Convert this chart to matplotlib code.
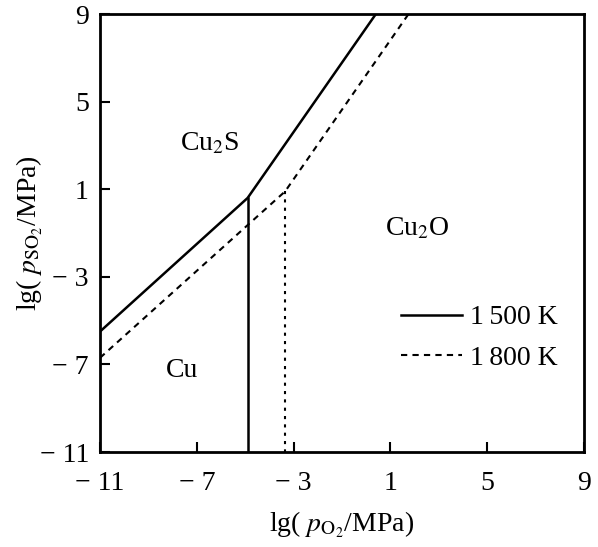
import matplotlib

matplotlib.use("agg")
import matplotlib.pyplot as plt

# phase boundaries (lg pO2, lg pSO2)
x_1500 = [-11, -4.9, 0.4]
y_1500 = [-5.5, 0.6, 9]
x_1500_v = [-4.9, -4.9]
y_1500_v = [0.6, -11]

x_1800 = [-11, -3.35, 1.75]
y_1800 = [-6.7, 0.9, 9]
x_1800_v = [-3.35, -3.35]
y_1800_v = [0.9, -11]

ticks = [-11, -7, -3, 1, 5, 9]
tick_labels = ["\u2212 11", "\u2212 7", "\u2212 3", "1", "5", "9"]

plt.rcParams["font.family"] = ["Liberation Serif", "DejaVu Serif"]
plt.rcParams["mathtext.fontset"] = "stix"

fig = plt.figure(figsize=(5.98, 5.47), dpi=100)
ax = fig.add_axes([100 / 598, 1 - 452 / 547, 484 / 598, 438 / 547])

ax.plot(x_1500, y_1500, color="black", lw=1.8, label="1\u2009500 K")
ax.plot(x_1500_v, y_1500_v, color="black", lw=1.8)
ax.plot(x_1800, y_1800, color="black", lw=1.5, ls=(0, (3, 2.5)), label="1\u2009800 K")
ax.plot(x_1800_v, y_1800_v, color="black", lw=1.5, ls=(0, (1.5, 2.5)))

ax.set_xlim(-11, 9)
ax.set_ylim(-11, 9)
ax.set_xticks(ticks)
ax.set_xticklabels(tick_labels)
ax.set_yticks(ticks)
ax.set_yticklabels(tick_labels)
ax.tick_params(direction="in", length=7, width=1.5, labelsize=20, top=False, right=False)
ax.tick_params(axis="x", pad=14)
ax.tick_params(axis="y", pad=8)
for s in ax.spines.values():
    s.set_linewidth(2)

ax.set_xlabel(r"lg( $p_{\mathrm{O}_2}$/MPa)", fontsize=20, labelpad=10)
ax.set_ylabel(r"lg( $p_{\mathrm{SO}_2}$/MPa)", fontsize=20, labelpad=-4)

ax.text(-6.45, 3.1, r"Cu$_2$S", fontsize=20, ha="center", va="center")
ax.text(2.1, -0.8, r"Cu$_2$O", fontsize=20, ha="center", va="center")
ax.text(-7.6, -7.3, "Cu", fontsize=20, ha="center", va="center")

ax.legend(loc="center left", bbox_to_anchor=(0.57, 0.26), frameon=False,
          fontsize=20, handlelength=2.2, handletextpad=0.3, labelspacing=0.55)

fig.savefig("out.png", dpi=100)
